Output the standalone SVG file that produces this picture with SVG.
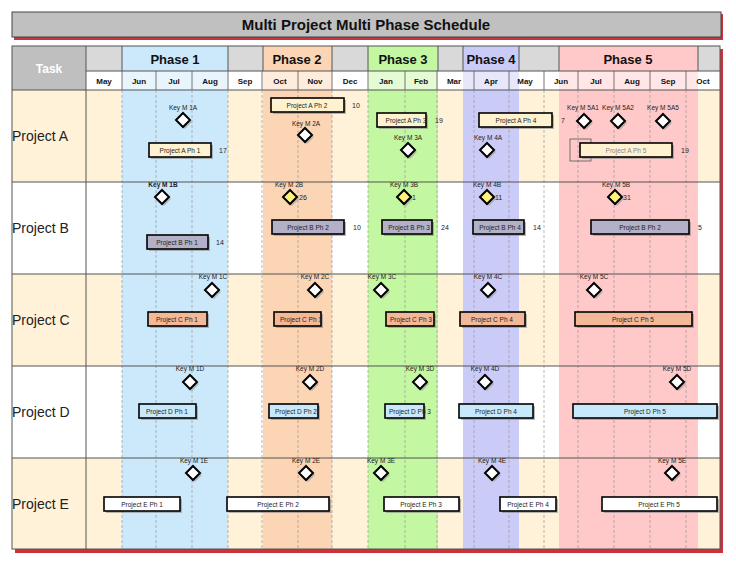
<svg xmlns="http://www.w3.org/2000/svg" width="736" height="565" viewBox="0 0 736 565">
<style>
text{font-family:"Liberation Sans",Arial,sans-serif}
.hdr{font-weight:bold;font-size:13px;fill:#111;text-anchor:middle}
.mon{font-weight:bold;font-size:8px;fill:#111;text-anchor:middle}
.proj{font-size:14px;fill:#222}
.k{font-size:6.5px;fill:#222;text-anchor:middle}
.n{font-size:7px;fill:#222}
.bt{font-size:6.5px;fill:#222;text-anchor:middle}
.dm{fill:#fff;stroke:#000;stroke-width:2}
.dy{fill:#fff27a;stroke:#000;stroke-width:2}
.ds{fill:#999;opacity:.6}
.bx{stroke:#000;stroke-width:1.6}
.sh{fill:#888;opacity:.6}
.vl{stroke:#999;stroke-width:.7;stroke-dasharray:3,2}
.hl{stroke:#555;stroke-width:1.2}
</style>
<rect width="736" height="565" fill="#fff"/>
<rect x="14" y="14" width="709" height="26" fill="#c8333c"/>
<rect x="12" y="12" width="709" height="25" fill="#c0c0c0" stroke="#444" stroke-width="1"/>
<text x="366" y="30" class="hdr" style="font-size:15px">Multi Project Multi Phase Schedule</text>
<rect x="15" y="49" width="708" height="504" fill="#c8333c"/>
<rect x="12" y="46" width="708" height="503" fill="#fff"/>
<rect x="86" y="90" width="634" height="92" fill="#fff2d9"/>
<rect x="86" y="274" width="634" height="92" fill="#fff2d9"/>
<rect x="86" y="458" width="634" height="91" fill="#fff2d9"/>
<rect x="12" y="90" width="74" height="92" fill="#fff2d9"/>
<rect x="12" y="274" width="74" height="92" fill="#fff2d9"/>
<rect x="12" y="458" width="74" height="91" fill="#fff2d9"/>
<rect x="12" y="46" width="74" height="44" fill="#bfbfbf"/>
<rect x="86" y="46" width="634" height="25" fill="#d9d9d9"/>
<rect x="122" y="46" width="106" height="503" fill="#cce9fb"/>
<rect x="263" y="46" width="69" height="503" fill="#fcd5b4"/>
<rect x="368" y="46" width="70" height="503" fill="#c3f7a2"/>
<rect x="463" y="46" width="56" height="503" fill="#cbcbf7"/>
<rect x="559" y="46" width="139" height="503" fill="#ffc9c9"/>
<rect x="86" y="71" width="634" height="19" fill="#fff" opacity=".55"/>
<g fill="none" stroke="#555" stroke-width="1">
<rect x="12" y="46" width="708" height="503"/>
<line x1="86" y1="46" x2="86" y2="549"/>
<line x1="86" y1="71" x2="720" y2="71"/>
<line x1="12" y1="90" x2="720" y2="90"/>
<line x1="122" y1="46" x2="122" y2="71"/><line x1="228" y1="46" x2="228" y2="71"/>
<line x1="263" y1="46" x2="263" y2="71"/><line x1="332" y1="46" x2="332" y2="71"/>
<line x1="368" y1="46" x2="368" y2="71"/><line x1="438" y1="46" x2="438" y2="71"/>
<line x1="463" y1="46" x2="463" y2="71"/><line x1="519" y1="46" x2="519" y2="71"/>
<line x1="559" y1="46" x2="559" y2="71"/><line x1="698" y1="46" x2="698" y2="71"/>
</g>
<g stroke="#555" stroke-width=".8">
<line x1="122" y1="71" x2="122" y2="90"/><line x1="156" y1="71" x2="156" y2="90"/><line x1="192" y1="71" x2="192" y2="90"/><line x1="228" y1="71" x2="228" y2="90"/><line x1="262" y1="71" x2="262" y2="90"/><line x1="298" y1="71" x2="298" y2="90"/><line x1="332" y1="71" x2="332" y2="90"/><line x1="368" y1="71" x2="368" y2="90"/><line x1="405" y1="71" x2="405" y2="90"/><line x1="437" y1="71" x2="437" y2="90"/><line x1="474" y1="71" x2="474" y2="90"/><line x1="509" y1="71" x2="509" y2="90"/><line x1="544" y1="71" x2="544" y2="90"/><line x1="578" y1="71" x2="578" y2="90"/><line x1="614" y1="71" x2="614" y2="90"/><line x1="650" y1="71" x2="650" y2="90"/><line x1="686" y1="71" x2="686" y2="90"/>
</g>
<g>
<line class="vl" x1="122" y1="90" x2="122" y2="549"/><line class="vl" x1="156" y1="90" x2="156" y2="549"/><line class="vl" x1="192" y1="90" x2="192" y2="549"/><line class="vl" x1="228" y1="90" x2="228" y2="549"/><line class="vl" x1="262" y1="90" x2="262" y2="549"/><line class="vl" x1="298" y1="90" x2="298" y2="549"/><line class="vl" x1="332" y1="90" x2="332" y2="549"/><line class="vl" x1="368" y1="90" x2="368" y2="549"/><line class="vl" x1="405" y1="90" x2="405" y2="549"/><line class="vl" x1="437" y1="90" x2="437" y2="549"/><line class="vl" x1="474" y1="90" x2="474" y2="549"/><line class="vl" x1="509" y1="90" x2="509" y2="549"/><line class="vl" x1="544" y1="90" x2="544" y2="549"/><line class="vl" x1="578" y1="90" x2="578" y2="549"/><line class="vl" x1="614" y1="90" x2="614" y2="549"/><line class="vl" x1="650" y1="90" x2="650" y2="549"/><line class="vl" x1="686" y1="90" x2="686" y2="549"/>
</g>
<g class="hl">
<line x1="12" y1="182" x2="720" y2="182"/><line x1="12" y1="274" x2="720" y2="274"/><line x1="12" y1="366" x2="720" y2="366"/><line x1="12" y1="458" x2="720" y2="458"/>
</g>
<text x="49" y="73" class="hdr" style="fill:#fff;font-size:12px">Task</text>
<text x="175" y="64" class="hdr">Phase 1</text>
<text x="297" y="64" class="hdr">Phase 2</text>
<text x="403" y="64" class="hdr">Phase 3</text>
<text x="491" y="64" class="hdr">Phase 4</text>
<text x="628" y="64" class="hdr">Phase 5</text>
<g>
<text x="104" y="84" class="mon">May</text><text x="139" y="84" class="mon">Jun</text><text x="174" y="84" class="mon">Jul</text><text x="210" y="84" class="mon">Aug</text><text x="245" y="84" class="mon">Sep</text><text x="280" y="84" class="mon">Oct</text><text x="315" y="84" class="mon">Nov</text><text x="350" y="84" class="mon">Dec</text><text x="386" y="84" class="mon">Jan</text><text x="421" y="84" class="mon">Feb</text><text x="454" y="84" class="mon">Mar</text><text x="491" y="84" class="mon">Apr</text><text x="525" y="84" class="mon">May</text><text x="561" y="84" class="mon">Jun</text><text x="596" y="84" class="mon">Jul</text><text x="632" y="84" class="mon">Aug</text><text x="668" y="84" class="mon">Sep</text><text x="703" y="84" class="mon">Oct</text>
</g>
<g id="tasks">
<text x="12" y="141" class="proj">Project A</text>
<text x="12" y="233" class="proj">Project B</text>
<text x="12" y="325" class="proj">Project C</text>
<text x="12" y="417" class="proj">Project D</text>
<text x="12" y="509" class="proj">Project E</text>
</g>
<defs>
<g id="dw"><path d="M2,-5 l7,7 -7,7 -7,-7z" class="ds"/><path d="M0,-7 l7,7 -7,7 -7,-7z" class="dm"/></g>
<g id="dyel"><path d="M2,-5 l7,7 -7,7 -7,-7z" class="ds"/><path d="M0,-7 l7,7 -7,7 -7,-7z" class="dy"/></g>
</defs>
<g id="milestones">
<g id="m1a"><text x="183" y="110" class="k">Key M 1A</text><use href="#dw" x="183" y="120"/></g>
<g id="m2a"><text x="306" y="126" class="k">Key M 2A</text><use href="#dw" x="305" y="135"/></g>
<g id="m3a"><text x="408" y="140" class="k">Key M 3A</text><use href="#dw" x="408" y="150"/></g>
<g id="m4a"><text x="488" y="140" class="k">Key M 4A</text><use href="#dw" x="487" y="150"/></g>
<g id="m5a1"><text x="583" y="110" class="k">Key M 5A1</text><use href="#dw" x="584" y="121"/></g>
<g id="m5a2"><text x="618" y="110" class="k">Key M 5A2</text><use href="#dw" x="618" y="121"/></g>
<g id="m5a5"><text x="663" y="110" class="k">Key M 5A5</text><use href="#dw" x="663" y="121"/></g>
<g id="m1b"><text x="163" y="187" class="k" style="font-weight:bold">Key M 1B</text><use href="#dw" x="162" y="197"/></g>
<g id="m2b"><text x="289" y="187" class="k">Key M 2B</text><use href="#dyel" x="290" y="197"/><text x="299" y="200" class="n">26</text></g>
<g id="m3b"><text x="404" y="187" class="k">Key M 3B</text><use href="#dyel" x="404" y="197"/><text x="412" y="200" class="n">1</text></g>
<g id="m4b"><text x="487" y="187" class="k">Key M 4B</text><use href="#dyel" x="487" y="197"/><text x="495" y="200" class="n">11</text></g>
<g id="m5b"><text x="616" y="187" class="k">Key M 5B</text><use href="#dyel" x="615" y="197"/><text x="623" y="200" class="n">31</text></g>
<g id="m1c"><text x="213" y="279" class="k">Key M 1C</text><use href="#dw" x="212" y="290"/></g>
<g id="m2c"><text x="315" y="279" class="k">Key M 2C</text><use href="#dw" x="315" y="290"/></g>
<g id="m3c"><text x="382" y="279" class="k">Key M 3C</text><use href="#dw" x="381" y="290"/></g>
<g id="m4c"><text x="488" y="279" class="k">Key M 4C</text><use href="#dw" x="488" y="290"/></g>
<g id="m5c"><text x="594" y="279" class="k">Key M 5C</text><use href="#dw" x="594" y="290"/></g>
<g id="m1d"><text x="190" y="371" class="k">Key M 1D</text><use href="#dw" x="190" y="382"/></g>
<g id="m2d"><text x="310" y="371" class="k">Key M 2D</text><use href="#dw" x="310" y="382"/></g>
<g id="m3d"><text x="420" y="371" class="k">Key M 3D</text><use href="#dw" x="420" y="382"/></g>
<g id="m4d"><text x="485" y="371" class="k">Key M 4D</text><use href="#dw" x="485" y="382"/></g>
<g id="m5d"><text x="677" y="371" class="k">Key M 5D</text><use href="#dw" x="677" y="382"/></g>
<g id="m1e"><text x="194" y="463" class="k">Key M 1E</text><use href="#dw" x="193" y="473"/></g>
<g id="m2e"><text x="306" y="463" class="k">Key M 2E</text><use href="#dw" x="306" y="473"/></g>
<g id="m3e"><text x="381" y="463" class="k">Key M 3E</text><use href="#dw" x="381" y="473"/></g>
<g id="m4e"><text x="492" y="463" class="k">Key M 4E</text><use href="#dw" x="492" y="473"/></g>
<g id="m5e"><text x="672" y="463" class="k">Key M 5E</text><use href="#dw" x="672" y="473"/></g>
</g>
<g id="bars">
<g id="a1"><rect x="151" y="145" width="62" height="14" class="sh"/><rect x="149" y="143" width="62" height="14" fill="#fff2d0" class="bx"/><text x="180" y="152.5" class="bt">Project A Ph 1</text><text x="219" y="153" class="n">17</text></g>
<g id="a2"><rect x="273" y="100" width="73" height="14" class="sh"/><rect x="271" y="98" width="73" height="14" fill="#fff2d0" class="bx"/><text x="307" y="107.5" class="bt">Project A Ph 2</text><text x="352" y="108" class="n">10</text></g>
<g id="a3"><rect x="379" y="115" width="49" height="14" class="sh"/><rect x="377" y="113" width="49" height="14" fill="#fff2d0" class="bx"/><text x="406" y="122.5" class="bt">Project A Ph 3</text><text x="435" y="123" class="n">19</text></g>
<g id="a4"><rect x="481" y="115" width="73" height="14" class="sh"/><rect x="479" y="113" width="73" height="14" fill="#fff2d0" class="bx"/><text x="516" y="122.5" class="bt">Project A Ph 4</text><text x="561" y="123" class="n">7</text></g>
<g id="a5"><rect x="570" y="139" width="21" height="22" fill="none" stroke="#555" stroke-width=".8"/><rect x="582" y="145" width="92" height="14" class="sh"/><rect x="580" y="143" width="92" height="14" fill="#fff2d0" class="bx"/><text x="626" y="152.5" class="bt" style="fill:#888">Project A Ph 5</text><text x="681" y="153" class="n">19</text></g>
<g id="b1"><rect x="149" y="237" width="61" height="14" class="sh"/><rect x="147" y="235" width="61" height="14" fill="#b3b1c8" class="bx"/><text x="177" y="244.5" class="bt">Project B Ph 1</text><text x="216" y="245" class="n">14</text></g>
<g id="b2"><rect x="274" y="222" width="72" height="14" class="sh"/><rect x="272" y="220" width="72" height="14" fill="#b3b1c8" class="bx"/><text x="308" y="229.5" class="bt">Project B Ph 2</text><text x="353" y="230" class="n">10</text></g>
<g id="b3"><rect x="384" y="222" width="50" height="14" class="sh"/><rect x="382" y="220" width="50" height="14" fill="#b3b1c8" class="bx"/><text x="409" y="229.5" class="bt">Project B Ph 3</text><text x="441" y="230" class="n">24</text></g>
<g id="b4"><rect x="475" y="222" width="51" height="14" class="sh"/><rect x="473" y="220" width="51" height="14" fill="#b3b1c8" class="bx"/><text x="500" y="229.5" class="bt">Project B Ph 4</text><text x="533" y="230" class="n">14</text></g>
<g id="b5"><rect x="593" y="222" width="98" height="14" class="sh"/><rect x="591" y="220" width="98" height="14" fill="#b3b1c8" class="bx"/><text x="640" y="229.5" class="bt">Project B Ph 2</text><text x="698" y="230" class="n">5</text></g>
<g id="c1"><rect x="150" y="314" width="59" height="14" class="sh"/><rect x="148" y="312" width="59" height="14" fill="#f2b897" class="bx"/><text x="177" y="321.5" class="bt">Project C Ph 1</text></g>
<g id="c2"><rect x="276" y="314" width="47" height="14" class="sh"/><rect x="274" y="312" width="47" height="14" fill="#f2b897" class="bx"/><text x="301" y="321.5" class="bt">Project C Ph 1</text></g>
<g id="c3"><rect x="388" y="314" width="48" height="14" class="sh"/><rect x="386" y="312" width="48" height="14" fill="#f2b897" class="bx"/><text x="411" y="321.5" class="bt">Project C Ph 3</text></g>
<g id="c4"><rect x="462" y="314" width="65" height="14" class="sh"/><rect x="460" y="312" width="65" height="14" fill="#f2b897" class="bx"/><text x="492" y="321.5" class="bt">Project C Ph 4</text></g>
<g id="c5"><rect x="577" y="314" width="117" height="14" class="sh"/><rect x="575" y="312" width="117" height="14" fill="#f2b897" class="bx"/><text x="633" y="321.5" class="bt">Project C Ph 5</text></g>
<g id="d1"><rect x="141" y="406" width="57" height="14" class="sh"/><rect x="139" y="404" width="57" height="14" fill="#c7e9fb" class="bx"/><text x="167" y="413.5" class="bt">Project D Ph 1</text></g>
<g id="d2"><rect x="271" y="406" width="49" height="14" class="sh"/><rect x="269" y="404" width="49" height="14" fill="#c7e9fb" class="bx"/><text x="296" y="413.5" class="bt">Project D Ph 2</text></g>
<g id="d3"><rect x="387" y="406" width="39" height="14" class="sh"/><rect x="385" y="404" width="39" height="14" fill="#c7e9fb" class="bx"/><text x="410" y="413.5" class="bt">Project D Ph 3</text></g>
<g id="d4"><rect x="461" y="406" width="74" height="14" class="sh"/><rect x="459" y="404" width="74" height="14" fill="#c7e9fb" class="bx"/><text x="496" y="413.5" class="bt">Project D Ph 4</text></g>
<g id="d5"><rect x="575" y="406" width="144" height="14" class="sh"/><rect x="573" y="404" width="144" height="14" fill="#c7e9fb" class="bx"/><text x="645" y="413.5" class="bt">Project D Ph 5</text></g>
<g id="e1"><rect x="106" y="499" width="76" height="14" class="sh"/><rect x="104" y="497" width="76" height="14" fill="#fff" class="bx"/><text x="142" y="506.5" class="bt">Project E Ph 1</text></g>
<g id="e2"><rect x="229" y="499" width="102" height="14" class="sh"/><rect x="227" y="497" width="102" height="14" fill="#fff" class="bx"/><text x="278" y="506.5" class="bt">Project E Ph 2</text></g>
<g id="e3"><rect x="386" y="499" width="75" height="14" class="sh"/><rect x="384" y="497" width="75" height="14" fill="#fff" class="bx"/><text x="421" y="506.5" class="bt">Project E Ph 3</text></g>
<g id="e4"><rect x="502" y="499" width="56" height="14" class="sh"/><rect x="500" y="497" width="56" height="14" fill="#fff" class="bx"/><text x="528" y="506.5" class="bt">Project E Ph 4</text></g>
<g id="e5"><rect x="604" y="499" width="115" height="14" class="sh"/><rect x="602" y="497" width="115" height="14" fill="#fff" class="bx"/><text x="659" y="506.5" class="bt">Project E Ph 5</text></g>
</g>
<g id="connectors"/>
</svg>
